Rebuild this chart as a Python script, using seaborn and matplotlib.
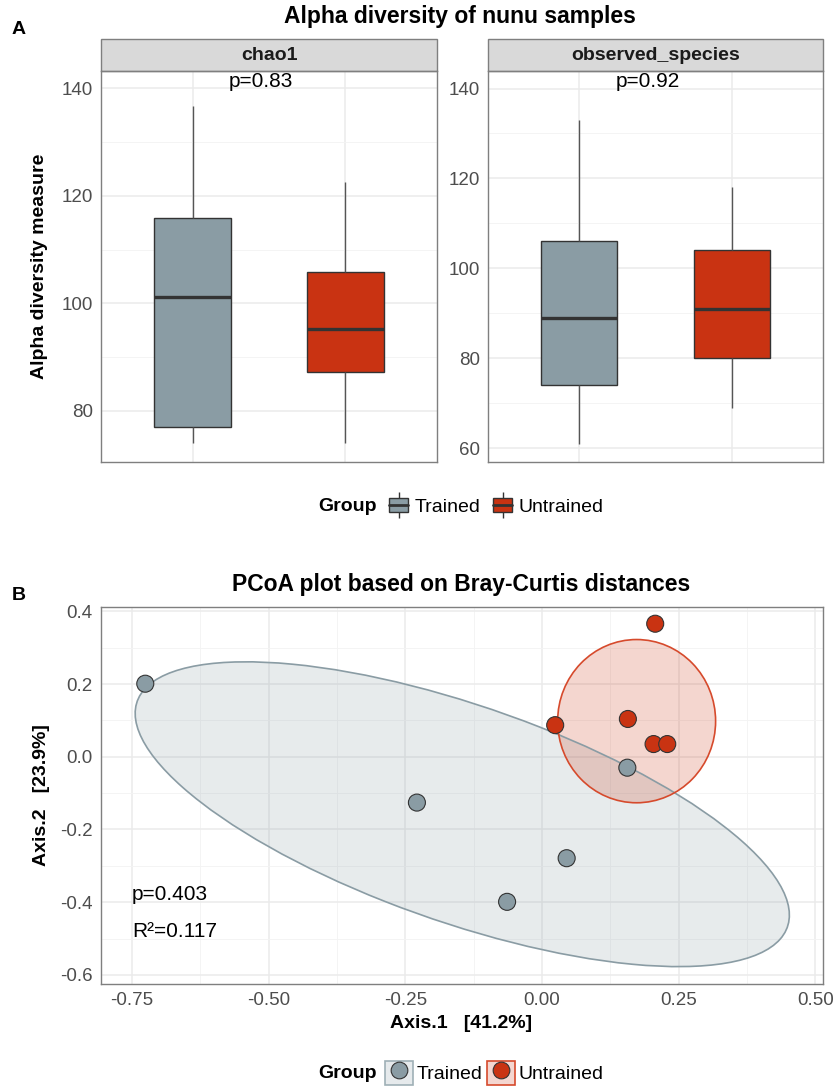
import numpy as np
import pandas as pd
import matplotlib
matplotlib.use("Agg")
import matplotlib.pyplot as plt
import seaborn as sns
from matplotlib.patches import Ellipse, Rectangle, Patch
from matplotlib.lines import Line2D

# ---------------- data ----------------
groups = ["Trained", "Untrained"]
group_colors = ["#8A9CA4", "#C93312"]

# alpha diversity (5 samples per group)
chao1_trained = [74.1, 77.0, 101.1, 115.9, 136.7]
chao1_untrained = [74.1, 87.3, 95.2, 105.8, 122.5]
observed_trained = [61, 74, 89, 106, 133]
observed_untrained = [69, 80, 91, 104, 118]
facet_names = ["chao1", "observed_species"]
facet_pvalues = ["p=0.83", "p=0.92"]

# PCoA coordinates
pc1_trained = [-0.726, -0.229, 0.156, 0.045, -0.064]
pc2_trained = [0.201, -0.126, -0.030, -0.279, -0.399]
pc1_untrained = [0.207, 0.024, 0.157, 0.204, 0.229]
pc2_untrained = [0.366, 0.087, 0.104, 0.035, 0.035]

# confidence ellipses (center, full width, full height, angle in data units)
ellipse_cx = [-0.146, 0.173]
ellipse_cy = [-0.158, 0.098]
ellipse_w = [1.351, 0.289]
ellipse_h = [0.557, 0.449]
ellipse_angle = [-30.6, 0.0]

adonis_p = "p=0.403"
adonis_r2 = "R²=0.117"

# ---------------- style ----------------
sns.set_theme(style="white")
plt.rcParams["font.family"] = ["Liberation Sans", "DejaVu Sans"]
plt.rcParams["axes.unicode_minus"] = False
plt.rcParams["text.color"] = "black"
plt.rcParams["axes.labelcolor"] = "black"

W, H = 834, 1090
fig = plt.figure(figsize=(W / 100, H / 100), dpi=100)

def fx(px):
    return px / W

def fy(py):
    return 1 - py / H

BORDER = "#7F7F7F"
GRID_MAJ = "#EBEBEB"
GRID_MIN = "#F3F3F3"
TICKC = "#4D4D4D"

def style_axes(ax):
    for s in ax.spines.values():
        s.set_color(BORDER)
        s.set_linewidth(1.0)
        s.set_visible(True)
    ax.set_axisbelow(True)
    ax.grid(which="major", color=GRID_MAJ, linewidth=1.1)
    ax.grid(which="minor", color=GRID_MIN, linewidth=0.6)
    ax.tick_params(axis="both", which="major", labelsize=13.5, labelcolor=TICKC,
                   color="#333333", length=3, width=0.8, pad=3, direction="out")
    ax.tick_params(which="minor", length=0)

# ---------------- top: boxplots ----------------
alpha_df = pd.DataFrame({
    "Group": ["Trained"] * 5 + ["Untrained"] * 5 + ["Trained"] * 5 + ["Untrained"] * 5,
    "value": chao1_trained + chao1_untrained + observed_trained + observed_untrained,
    "measure": ["chao1"] * 10 + ["observed_species"] * 10,
})

panel_specs = [
    (101, 437, (70.5, 143.2), [80, 100, 120, 140], [90, 110, 130]),
    (488, 823, (56.9, 143.9), [60, 80, 100, 120, 140], [70, 90, 110, 130]),
]
top_y0, top_y1 = 71, 462
strip_h = 32

for i, (x0, x1, ylim, yt, ymt) in enumerate(panel_specs):
    ax = fig.add_axes([fx(x0), fy(top_y1), (x1 - x0) / W, (top_y1 - top_y0) / H])
    sub = alpha_df[alpha_df["measure"] == facet_names[i]]
    sns.boxplot(data=sub, x="Group", y="value", hue="Group", order=groups,
                hue_order=groups, palette=group_colors, saturation=1, width=0.5,
                linecolor="#333333", linewidth=1.0, showcaps=False,
                medianprops=dict(linewidth=2.4, color="#333333"),
                whiskerprops=dict(color="#555555", linewidth=1.0),
                legend=False, ax=ax)
    ax.set_xlim(-0.6, 1.6)
    ax.set_ylim(*ylim)
    ax.set_yticks(yt)
    ax.set_yticks(ymt, minor=True)
    style_axes(ax)
    ax.tick_params(axis="x", length=0, labelbottom=False)
    ax.set_xlabel("")
    ax.set_ylabel("")
    # strip
    sh = strip_h / (top_y1 - top_y0)
    ax.add_patch(Rectangle((0, 1), 1, sh, transform=ax.transAxes, clip_on=False,
                           facecolor="#D9D9D9", edgecolor=BORDER, linewidth=1.0))
    ax.text(0.5, 1 + sh / 2, facet_names[i], transform=ax.transAxes, ha="center",
            va="center", fontsize=14, fontweight="bold", color="#1A1A1A")
    ax.text(0.45, 0.972, facet_pvalues[i], transform=ax.get_xaxis_transform(),
            ha="center", va="center", fontsize=15, color="black")

fig.text(fx(40), fy(266), "Alpha diversity measure", rotation=90, ha="center",
         va="center", fontsize=14, fontweight="bold", color="black")
fig.text(fx(460), fy(17), "Alpha diversity of nunu samples", ha="center",
         va="center", fontsize=16.5, fontweight="bold", color="black")
fig.text(fx(12), fy(30), "A", ha="left", va="center", fontsize=14,
         fontweight="bold", color="black")

# top legend
fig.text(fx(318), fy(507), "Group", ha="left", va="center", fontsize=14,
         fontweight="bold", color="black")
box_handles = []
for c in group_colors:
    box_handles.append((
        Line2D([], [], marker="|", markersize=19, color="#333333", mew=1.0, ls=""),
        Patch(facecolor=c, edgecolor="#333333", linewidth=1.0),
        Line2D([], [], color="#333333", linewidth=2.0),
    ))
leg1 = fig.legend(box_handles, groups, loc="center left",
                  bbox_to_anchor=(fx(389), fy(507)), ncol=2, frameon=False,
                  fontsize=14, handlelength=1.0, handleheight=0.75,
                  handletextpad=0.3, columnspacing=0.65, borderpad=0,
                  borderaxespad=0)
for t in leg1.get_texts():
    t.set_color("black")

# ---------------- bottom: PCoA ----------------
pcoa_df = pd.DataFrame({
    "Axis.1": pc1_trained + pc1_untrained,
    "Axis.2": pc2_trained + pc2_untrained,
    "Group": ["Trained"] * 5 + ["Untrained"] * 5,
})

bx0, bx1, by0, by1 = 101, 823, 607, 984
axb = fig.add_axes([fx(bx0), fy(by1), (bx1 - bx0) / W, (by1 - by0) / H])

for i, g in enumerate(groups):
    e = Ellipse((ellipse_cx[i], ellipse_cy[i]), ellipse_w[i], ellipse_h[i],
                angle=ellipse_angle[i], facecolor=group_colors[i], alpha=0.2,
                edgecolor="none", zorder=2)
    axb.add_patch(e)
    e2 = Ellipse((ellipse_cx[i], ellipse_cy[i]), ellipse_w[i], ellipse_h[i],
                 angle=ellipse_angle[i], facecolor="none",
                 edgecolor=group_colors[i] if i == 0 else "#D64A2C",
                 linewidth=1.2, zorder=2.1)
    axb.add_patch(e2)

sns.scatterplot(data=pcoa_df, x="Axis.1", y="Axis.2", hue="Group",
                hue_order=groups, palette=group_colors, s=150,
                edgecolor="#333333", linewidth=0.8, legend=False, zorder=3, ax=axb)

axb.set_xlim(-0.807, 0.514)
axb.set_ylim(-0.625, 0.412)
axb.set_xticks([-0.75, -0.50, -0.25, 0.00, 0.25, 0.50])
axb.set_xticklabels(["-0.75", "-0.50", "-0.25", "0.00", "0.25", "0.50"])
axb.set_xticks([-0.625, -0.375, -0.125, 0.125, 0.375], minor=True)
axb.set_yticks([-0.6, -0.4, -0.2, 0.0, 0.2, 0.4])
axb.set_yticklabels(["-0.6", "-0.4", "-0.2", "0.0", "0.2", "0.4"])
axb.set_yticks([-0.5, -0.3, -0.1, 0.1, 0.3], minor=True)
style_axes(axb)
axb.set_xlabel("")
axb.set_ylabel("")

axb.text(-0.75, -0.38, adonis_p, ha="left", va="center", fontsize=15, color="black")
axb.text(-0.75, -0.48, adonis_r2, ha="left", va="center", fontsize=15, color="black")

fig.text(fx(461), fy(1023), "Axis.1   [41.2%]", ha="center", va="center",
         fontsize=14, fontweight="bold", color="black")
fig.text(fx(42), fy(795), "Axis.2   [23.9%]", rotation=90, ha="center",
         va="center", fontsize=14, fontweight="bold", color="black")
fig.text(fx(461), fy(585), "PCoA plot based on Bray-Curtis distances",
         ha="center", va="center", fontsize=16.5, fontweight="bold", color="black")
fig.text(fx(12), fy(596), "B", ha="left", va="center", fontsize=14,
         fontweight="bold", color="black")

# bottom legend
fig.text(fx(318), fy(1073), "Group", ha="left", va="center", fontsize=14,
         fontweight="bold", color="black")
pt_handles = []
fills = ["#E6EAEC", "#F4D6D0"]
edges = ["#9FB0B6", "#D64A2C"]
for c, f, ec in zip(group_colors, fills, edges):
    pt_handles.append((
        Patch(facecolor=f, edgecolor=ec, linewidth=1.2),
        Line2D([], [], marker="o", ls="", markersize=12, markerfacecolor=c,
               markeredgecolor="#333333", markeredgewidth=0.8),
    ))
leg2 = fig.legend(pt_handles, groups, loc="center left",
                  bbox_to_anchor=(fx(385), fy(1073)), ncol=2, frameon=False,
                  fontsize=14, handlelength=1.45, handleheight=1.45,
                  handletextpad=0.2, columnspacing=0.2, borderpad=0,
                  borderaxespad=0)
for t in leg2.get_texts():
    t.set_color("black")

fig.savefig("out.png", dpi=100)
